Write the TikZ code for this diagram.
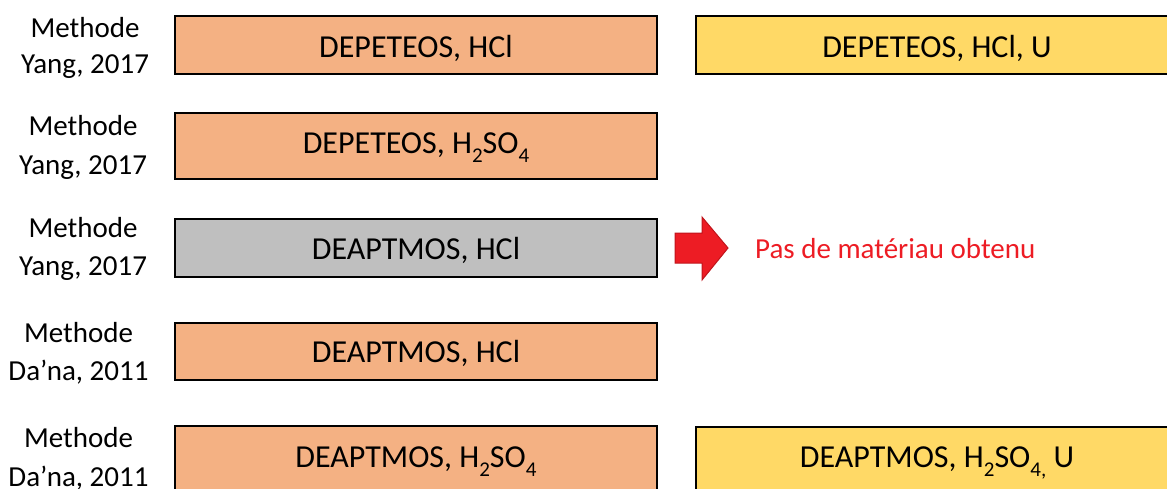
\documentclass[tikz,border=0pt]{standalone}
\usepackage{fontspec}
\setmainfont{Carlito}
\definecolor{orfill}{HTML}{F4B183}
\definecolor{yefill}{HTML}{FFD966}
\definecolor{grfill}{HTML}{BFBFBF}
\definecolor{redf}{HTML}{ED1C24}
\definecolor{redd}{HTML}{C0141B}
\newcommand{\chsub}[1]{\raisebox{-9.5pt}{\fontsize{21}{21}\selectfont #1}}
\tikzset{
  boxo/.style={draw=black, line width=1.6pt, fill=orfill},
  boxy/.style={draw=black, line width=1.6pt, fill=yefill},
  boxg/.style={draw=black, line width=1.6pt, fill=grfill},
  txt/.style={font=\fontsize{32}{36}\selectfont, inner sep=0pt, anchor=base},
  lbl/.style={font=\fontsize{29}{38}\selectfont, align=center, inner sep=0pt, anchor=base},
  red/.style={font=\fontsize{29}{34}\selectfont, inner sep=0pt, anchor=base west, text=redf},
}
\begin{document}
\begin{tikzpicture}[x=1pt,y=-1pt]
\useasboundingbox (0,0) rectangle (1167,488);
\clip (0,0) rectangle (1167,488);
% boxes
\draw[boxo] (175,16) rectangle (657,74);
\draw[boxy] (696,16) rectangle (1178,74);
\draw[boxo] (175,113) rectangle (657,179);
\draw[boxg] (175,219) rectangle (657,277);
\draw[boxo] (175,323) rectangle (657,380);
\draw[boxo] (175,426) rectangle (657,500);
\draw[boxy] (696,427) rectangle (1178,500);
% box texts
\node[txt] (t1) at (416,57) {DEPETEOS, HCl};
\node[txt] (t1y) at (937,57) {DEPETEOS, HCl, U};
\node[txt] (t2) at (416,153) {DEPETEOS, H\chsub{2}SO\chsub{4}};
\node[txt] (t3) at (416,259) {DEAPTMOS, HCl};
\node[txt] (t4) at (416,362) {DEAPTMOS, HCl};
\node[txt] (t5) at (416,467) {DEAPTMOS, H\chsub{2}SO\chsub{4}};
\node[txt] (t5y) at (937,467) {DEAPTMOS, H\chsub{2}SO\chsub{4,} U};
% labels (anchor = baseline of the last line)
\node[lbl, font=\fontsize{29}{36}\selectfont] (l1) at (85,73) {Methode\\Yang, 2017};
\node[lbl, font=\fontsize{29}{39}\selectfont] (l2) at (83,174) {Methode\\Yang, 2017};
\node[lbl] (l3) at (83,275) {Methode\\Yang, 2017};
\node[lbl] (l4) at (78.5,380) {Methode\\Da’na, 2011};
\node[lbl, font=\fontsize{29}{39}\selectfont] (l5) at (78.5,486) {Methode\\Da’na, 2011};
% arrow
\draw[fill=redf, draw=redd, line width=1pt, line join=miter]
  (675,233) -- (702,233) -- (702,217) -- (728,248) -- (702,280) -- (702,263) -- (675,263) -- cycle;
\node[red] (na) at (755,258) {Pas de matériau obtenu};
\end{tikzpicture}
\end{document}
